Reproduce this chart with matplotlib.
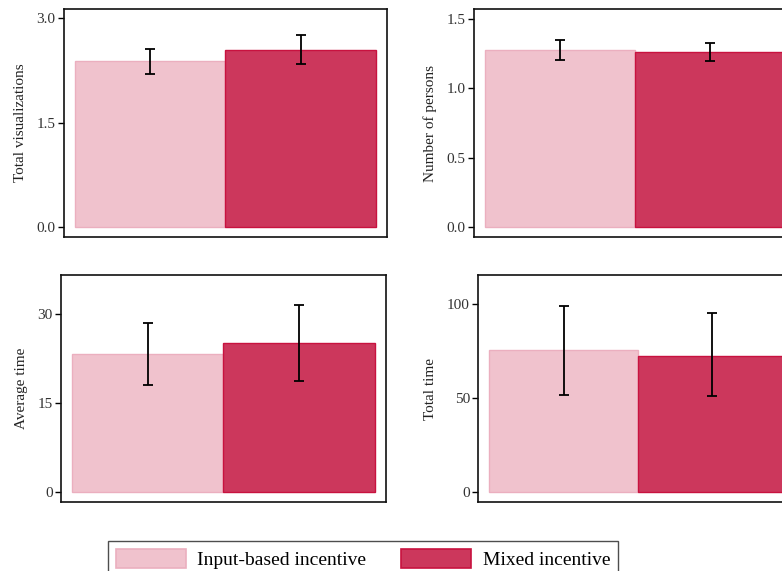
import matplotlib
matplotlib.use("Agg")
import matplotlib.pyplot as plt
from matplotlib.patches import Patch

plt.rcParams["font.family"] = ["Liberation Serif", "DejaVu Serif"]

groups = ["Input-based incentive", "Mixed incentive"]
fill_colors = ["#F0C2CD", "#CC375C"]
edge_colors = ["#EBAFBF", "#C8123F"]

# panel data: label, means, lower/upper CI, ticks, tick labels, ylim
labels = ["Total visualizations", "Number of persons", "Average time", "Total time"]
means = [[2.38, 2.54], [1.274, 1.259], [23.3, 25.1], [75.3, 72.4]]
ci_low = [[2.20, 2.34], [1.202, 1.197], [18.0, 18.7], [51.6, 50.9]]
ci_high = [[2.555, 2.76], [1.346, 1.327], [28.6, 31.6], [98.8, 94.9]]
ticks = [[0, 1.5, 3.0], [0, 0.5, 1.0, 1.5], [0, 15, 30], [0, 50, 100]]
tick_labels = [["0.0", "1.5", "3.0"], ["0.0", "0.5", "1.0", "1.5"],
               ["0", "15", "30"], ["0", "50", "100"]]
ylims = [(-0.14, 3.13), (-0.074, 1.572), (-1.58, 36.67), (-5.3, 115.2)]

# axes boxes in figure fractions (right column runs past the figure edge)
boxes = [
    (0.0818, 0.5849, 0.413, 0.3993),
    (0.6058, 0.5849, 0.413, 0.3993),
    (0.0780, 0.1214, 0.4156, 0.3975),
    (0.6116, 0.1202, 0.4085, 0.3980),
]

fig = plt.figure(figsize=(7.82, 5.71), dpi=100, facecolor="white")

for i in range(4):
    ax = fig.add_axes(boxes[i])
    x = [0, 1]
    ax.bar(x, means[i], width=1.0, color=fill_colors, edgecolor=edge_colors,
           linewidth=1.0, zorder=1)
    yerr = [[m - lo for m, lo in zip(means[i], ci_low[i])],
            [hi - m for m, hi in zip(means[i], ci_high[i])]]
    ax.errorbar(x, means[i], yerr=yerr, fmt="none", ecolor="black",
                elinewidth=1.3, capsize=3.5, capthick=1.3, zorder=3)
    ax.set_xlim(-0.573, 1.573)
    ax.set_ylim(*ylims[i])
    ax.set_xticks([])
    ax.set_yticks(ticks[i])
    ax.set_yticklabels(tick_labels[i])
    ax.tick_params(axis="y", direction="out", length=4.5, width=1.0,
                   labelsize=11, labelcolor="#333333", pad=1.5)
    ax.set_ylabel(labels[i], fontsize=11, color="#222222", labelpad=7)
    for s in ax.spines.values():
        s.set_linewidth(1.2)
        s.set_color("#111111")

handles = [Patch(facecolor=fill_colors[k], edgecolor=edge_colors[k], linewidth=1.2)
           for k in range(2)]
leg = fig.legend(handles, groups, loc="upper center", ncol=2,
                 bbox_to_anchor=(363 / 782, 1 - 531.5 / 571),
                 fontsize=14, frameon=True, fancybox=False, edgecolor="#222222",
                 handlelength=3.6, handleheight=1.15, handletextpad=0.6,
                 columnspacing=1.8, borderpad=0.4)
leg.get_frame().set_linewidth(1.0)

fig.savefig("out.png", dpi=100, facecolor="white")
